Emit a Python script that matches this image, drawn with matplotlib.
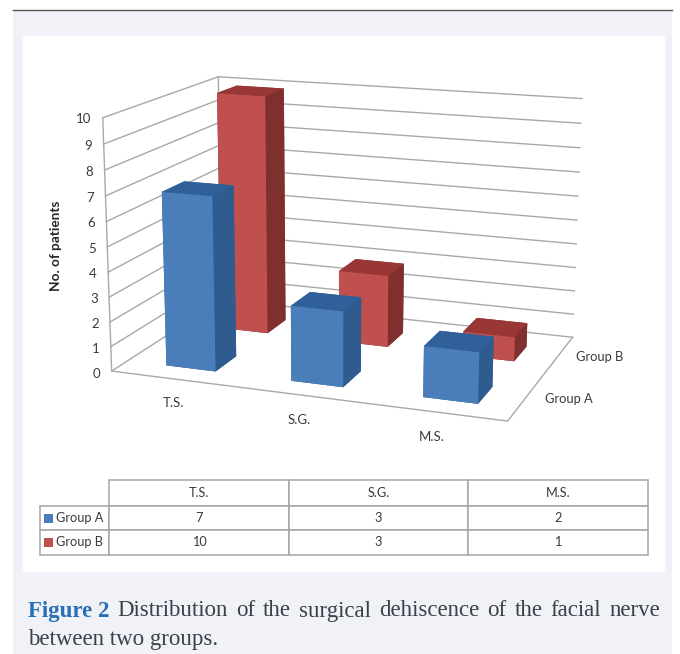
import numpy as np
import matplotlib
matplotlib.use('Agg')
import matplotlib.pyplot as plt
from matplotlib.patches import Rectangle
from mpl_toolkits.mplot3d import proj3d

plt.rcParams['font.family'] = ['Lato', 'DejaVu Sans']

categories = ['T.S.', 'S.G.', 'M.S.']
series_names = ['Group A', 'Group B']
group_a = [7, 3, 2]
group_b = [10, 3, 1]
z_ticks = [0, 1, 2, 3, 4, 5, 6, 7, 8, 9, 10]
y_label = 'No. of patients'
caption_head = 'Figure 2'
caption_line1 = 'Distribution of the surgical dehiscence of the facial nerve'
caption_line2 = 'between two groups.'

W, H = 680, 654
fig = plt.figure(figsize=(W / 100, H / 100), dpi=100, facecolor='white')

# flat layer in image pixels, for the page, the table and the caption
bg = fig.add_axes([0, 0, 1, 1], zorder=0)
bg.set_xlim(0, W)
bg.set_ylim(H, 0)
bg.axis('off')
bg.add_patch(Rectangle((13, 10), 659, 644, fc='#f0f2f8', ec='none'))
bg.plot([13, 672], [9.5, 9.5], color='#555555', lw=1)
bg.add_patch(Rectangle((23, 36), 642, 536, fc='white', ec='none'))

# the chart itself
ax = fig.add_axes([0, 0, 1, 1], projection='3d', computed_zorder=False, zorder=1)
ax.set_axis_off()
ax.patch.set_alpha(0)

grid_col = '#a8a8a8'
nx, ny = len(categories), len(series_names)
zmax = z_ticks[-1]
for z in z_ticks:
    ax.plot([0, 0, nx], [0, ny, ny], [z, z, z], color=grid_col, lw=1, zorder=1)
ax.plot([0, 0], [0, 0], [0, zmax], color=grid_col, lw=1, zorder=1)
ax.plot([0, 0], [ny, ny], [0, zmax], color=grid_col, lw=1, zorder=1)
ax.plot([0, nx, nx], [0, 0, ny], [0, 0, 0], color=grid_col, lw=1, zorder=1)

bar_w = 0.40
bar_d = 0.38
# faces: bottom, top, front, back, left, right
blue_faces = ['#2f5d90', '#30609a', '#4a7ebb', '#2f5d90', '#2f5d90', '#2f5b8e']
red_faces = ['#7e2f2e', '#983736', '#c0504d', '#7e2f2e', '#7e2f2e', '#7e2f2e']
for j, (vals, faces) in enumerate([(group_a, blue_faces), (group_b, red_faces)]):
    xs = np.arange(nx) + 0.52 - bar_w / 2
    ys = np.full(nx, j + 0.45 - bar_d / 2)
    ax.bar3d(xs, ys, np.zeros(nx), bar_w, bar_d, vals, color=faces * nx, shade=False,
             zorder=3 - j, linewidth=0)

# camera: fit the projection to where the box corners sit in the image
world = np.array([[0, 0, 0], [nx, 0, 0], [nx, ny, 0], [0, ny, 0],
                  [0, 0, zmax], [0, ny, zmax], [nx, ny, zmax]], float)
pixels = np.array([[112, 371], [507, 422], [573, 336], [222, 300],
                   [103, 117], [218, 77], [582, 99]], float)
ax.apply_aspect()
view = ax.transData.inverted().transform(np.c_[pixels[:, 0], H - pixels[:, 1]])
rows, rhs = [], []
for (x, y, z), (u, v) in zip(world, view):
    rows.append([x, y, z, 1, 0, 0, 0, 0, -u * x, -u * y, -u * z])
    rows.append([0, 0, 0, 0, x, y, z, 1, -v * x, -v * y, -v * z])
    rhs += [u, v]
p = np.linalg.lstsq(np.array(rows), np.array(rhs), rcond=None)[0]
M = np.array([p[:4], p[4:8], [-0.3, 1, -0.05, -5], [p[8], p[9], p[10], 1]])
ax.get_proj = lambda: M


def label3d(x, y, z, s, **kw):
    # axis labels go on the flat layer, at the projected spot
    u, v, _ = proj3d.proj_transform(x, y, z, M)
    px, py = ax.transData.transform((u, v))
    bg.text(px, H - py, s, va='center', color=txt, **kw)


txt = '#3a3a3a'
for z in z_ticks:
    label3d(-0.05, -0.08, z, str(z), ha='right', fontsize=9.5)
for i, c in enumerate(categories):
    label3d(0.73 + 0.94 * i, -0.47, 0, c, ha='center', fontsize=9.5)
for j, s in enumerate(series_names):
    label3d(nx + 0.13, j + 0.53, 0, s, ha='left', fontsize=9.3)

bg.text(56, 246, y_label, rotation=90, ha='center', va='center', fontsize=9.8,
        fontweight='bold', color='#262626')

# data table under the chart
col_x = [40, 109, 289, 468, 648]
row_y = [480, 506, 530, 555]
cell_text = [[series_names[0]] + [str(v) for v in group_a],
             [series_names[1]] + [str(v) for v in group_b]]
table = bg.table(cellText=cell_text, colLabels=[''] + categories,
                 colWidths=[(col_x[i + 1] - col_x[i]) / W for i in range(4)],
                 cellLoc='center',
                 bbox=[col_x[0] / W, 1 - row_y[-1] / H, (col_x[-1] - col_x[0]) / W,
                       (row_y[-1] - row_y[0]) / H])
table.set_zorder(3)
table.auto_set_font_size(False)
for (r, c), cell in table.get_celld().items():
    cell.set_edgecolor('#a6a6a6')
    cell.set_linewidth(1.1)
    cell.set_fontsize(9.2)
    cell.get_text().set_color(txt)
    cell.set_height((row_y[r + 1] - row_y[r]) / H)
    if c == 0:
        cell.set_text_props(ha='left')
        cell.PAD = 16 / (col_x[1] - col_x[0])
table[(0, 0)].visible_edges = ''
bg.add_patch(Rectangle((44, 513.5), 9, 9, fc='#4a7ebb', ec='none', zorder=5))
bg.add_patch(Rectangle((44, 537.5), 9, 9, fc='#c0504d', ec='none', zorder=5))

# caption, first line is justified
serif = 'Liberation Serif'
rend = fig.canvas.get_renderer()
head = bg.text(28, 611, caption_head, family=serif, fontsize=16.5, fontweight='bold',
               color='#2a6eb5', va='center')
words = [head] + [bg.text(0, 611, w, family=serif, fontsize=16.5, color='#3c4048', va='center')
                  for w in caption_line1.split()]
widths = [t.get_window_extent(rend).width for t in words]
gap = (660 - 28 - sum(widths)) / (len(words) - 1)
x = 28
for t, w in zip(words, widths):
    t.set_x(x)
    x += w + gap
bg.text(28, 639, caption_line2, family=serif, fontsize=16.5, color='#3c4048', va='center')

fig.savefig('out.png', dpi=100)
